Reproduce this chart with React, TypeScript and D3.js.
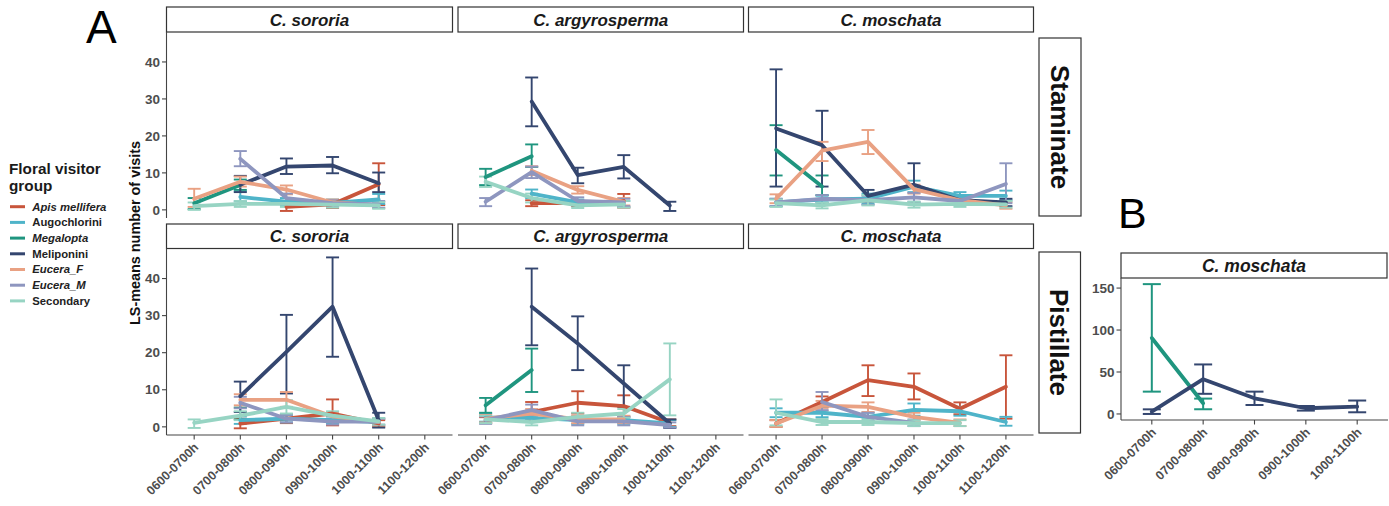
import React from "react";
import * as d3 from "d3";

// ---------- categories & labels ----------
const timeSlots = ["0600-0700h", "0700-0800h", "0800-0900h", "0900-1000h", "1000-1100h", "1100-1200h"];
const timeSlotsB = ["0600-0700h", "0700-0800h", "0800-0900h", "0900-1000h", "1000-1100h"];
const groups = ["Apis mellifera", "Augochlorini", "Megalopta", "Meliponini", "Eucera_F", "Eucera_M", "Secondary"];
const groupItalic = [true, false, true, false, true, true, false];
const groupColors = ["#C8553B", "#4FB4C9", "#1F957F", "#34466F", "#E9A183", "#8E96BF", "#97D4C3"];
const species = ["C. sororia", "C. argyrosperma", "C. moschata"];
const sexes = ["Staminate", "Pistillate"];
const yTicksA = [0, 10, 20, 30, 40];
const yTicksB = [0, 50, 100, 150];

// rows: [group, time-slot index, LS-mean, lower, upper]
type Row = [string, number, number, number, number];

const sororiaStaminate: Row[] = [
  ["Apis mellifera", 2, 0.8, -0.3, 2.3], ["Apis mellifera", 3, 1.5, 0.5, 2.5], ["Apis mellifera", 4, 6.9, 1.3, 12.6],
  ["Augochlorini", 1, 3.5, 2.3, 5.0], ["Augochlorini", 2, 2.2, 1.2, 3.2], ["Augochlorini", 3, 1.9, 1.0, 2.8], ["Augochlorini", 4, 2.8, 1.6, 4.3],
  ["Megalopta", 0, 1.8, 0.2, 3.2], ["Megalopta", 1, 6.7, 5.4, 8.2],
  ["Meliponini", 1, 6.8, 4.8, 9.2], ["Meliponini", 2, 11.7, 9.7, 13.9], ["Meliponini", 3, 12.0, 9.9, 14.3], ["Meliponini", 4, 7.2, 4.8, 10.1],
  ["Eucera_F", 0, 3.0, 0.8, 5.7], ["Eucera_F", 1, 7.6, 6.3, 9.0], ["Eucera_F", 2, 5.5, 4.2, 6.6], ["Eucera_F", 3, 2.0, 1.2, 2.8], ["Eucera_F", 4, 1.3, 0.5, 2.2],
  ["Eucera_M", 1, 13.8, 11.8, 15.9], ["Eucera_M", 2, 3.2, 2.0, 4.4], ["Eucera_M", 3, 1.8, 1.0, 2.6], ["Eucera_M", 4, 1.5, 0.6, 2.4],
  ["Secondary", 0, 1.0, 0.0, 2.0], ["Secondary", 1, 1.6, 0.8, 2.4], ["Secondary", 2, 1.6, 0.8, 2.4], ["Secondary", 3, 1.4, 0.6, 2.2], ["Secondary", 4, 1.2, 0.3, 2.1],
];

const argyrospermaStaminate: Row[] = [
  ["Apis mellifera", 1, 1.8, 1.0, 2.6], ["Apis mellifera", 2, 1.8, 1.0, 2.6], ["Apis mellifera", 3, 2.4, 0.6, 4.3],
  ["Augochlorini", 1, 4.4, 3.2, 5.5], ["Augochlorini", 2, 2.0, 1.2, 2.8], ["Augochlorini", 3, 1.6, 0.8, 2.4],
  ["Megalopta", 0, 8.9, 6.7, 11.1], ["Megalopta", 1, 14.5, 11.6, 17.7],
  ["Meliponini", 1, 29.3, 22.6, 35.8], ["Meliponini", 2, 9.4, 7.2, 11.4], ["Meliponini", 3, 11.6, 8.5, 14.8], ["Meliponini", 4, 1.2, -0.3, 2.2],
  ["Eucera_F", 1, 10.6, 9.4, 11.8], ["Eucera_F", 2, 5.4, 4.4, 6.4], ["Eucera_F", 3, 2.2, 1.2, 3.2],
  ["Eucera_M", 0, 2.2, 1.0, 3.2], ["Eucera_M", 1, 10.2, 8.6, 11.7], ["Eucera_M", 2, 2.4, 1.4, 3.4], ["Eucera_M", 3, 2.0, 1.0, 3.0],
  ["Secondary", 0, 7.6, 6.2, 9.0], ["Secondary", 1, 3.2, 2.0, 4.4], ["Secondary", 2, 1.2, 0.5, 2.0], ["Secondary", 3, 1.5, 0.6, 2.4],
];

const moschataStaminate: Row[] = [
  ["Augochlorini", 0, 2.0, 1.0, 3.0], ["Augochlorini", 1, 2.8, 1.8, 3.8], ["Augochlorini", 2, 3.0, 1.6, 4.4], ["Augochlorini", 3, 6.3, 4.8, 7.9], ["Augochlorini", 4, 3.8, 2.8, 4.8], ["Augochlorini", 5, 3.8, 2.6, 5.2],
  ["Megalopta", 0, 16.2, 9.3, 22.9], ["Megalopta", 1, 6.3, 4.0, 9.3],
  ["Meliponini", 0, 22.0, 6.3, 38.0], ["Meliponini", 1, 17.5, 6.3, 26.8], ["Meliponini", 2, 3.8, 2.2, 5.4], ["Meliponini", 3, 6.8, 1.8, 12.6], ["Meliponini", 4, 2.6, 1.6, 3.6], ["Meliponini", 5, 2.0, 1.0, 3.0],
  ["Eucera_F", 0, 3.0, 1.8, 4.2], ["Eucera_F", 1, 16.0, 13.2, 18.4], ["Eucera_F", 2, 18.4, 15.1, 21.6], ["Eucera_F", 3, 5.6, 4.4, 6.8], ["Eucera_F", 4, 2.6, 1.6, 3.6], ["Eucera_F", 5, 1.2, 0.3, 2.1],
  ["Eucera_M", 0, 2.0, 1.0, 3.0], ["Eucera_M", 1, 3.0, 2.0, 4.0], ["Eucera_M", 2, 2.6, 1.4, 3.8], ["Eucera_M", 3, 3.4, 2.2, 4.6], ["Eucera_M", 4, 2.4, 1.4, 3.4], ["Eucera_M", 5, 7.0, 1.8, 12.6],
  ["Secondary", 0, 1.8, 0.8, 2.8], ["Secondary", 1, 1.2, 0.4, 2.0], ["Secondary", 2, 2.6, 1.2, 4.0], ["Secondary", 3, 1.4, 0.6, 2.2], ["Secondary", 4, 1.6, 0.8, 2.4], ["Secondary", 5, 1.5, 0.6, 2.4],
];

const sororiaPistillate: Row[] = [
  ["Apis mellifera", 1, 0.9, -0.4, 2.2], ["Apis mellifera", 2, 2.2, 1.0, 3.4], ["Apis mellifera", 3, 3.6, 0.4, 7.4], ["Apis mellifera", 4, 0.9, 0.0, 1.8],
  ["Augochlorini", 1, 1.8, 0.8, 2.8], ["Augochlorini", 2, 2.2, 1.2, 3.2], ["Augochlorini", 3, 1.8, 0.8, 2.8], ["Augochlorini", 4, 1.3, 0.4, 2.2],
  ["Megalopta", 1, 3.5, 2.0, 5.2],
  ["Meliponini", 1, 8.3, 4.0, 12.2], ["Meliponini", 2, 20.2, 9.0, 30.2], ["Meliponini", 3, 32.4, 18.9, 45.7], ["Meliponini", 4, 1.8, -0.2, 3.8],
  ["Eucera_F", 1, 7.3, 5.8, 8.8], ["Eucera_F", 2, 7.3, 5.4, 9.4], ["Eucera_F", 3, 2.8, 1.6, 4.0], ["Eucera_F", 4, 1.3, 0.4, 2.2],
  ["Eucera_M", 1, 6.5, 5.0, 8.1], ["Eucera_M", 2, 2.2, 1.2, 3.2], ["Eucera_M", 3, 1.4, 0.6, 2.2], ["Eucera_M", 4, 1.4, 0.6, 2.2],
  ["Secondary", 0, 1.1, -0.3, 2.0], ["Secondary", 1, 3.0, 1.8, 4.2], ["Secondary", 2, 5.4, 3.6, 7.2], ["Secondary", 3, 3.0, 1.8, 4.2], ["Secondary", 4, 1.5, 0.6, 2.4],
];

const argyrospermaPistillate: Row[] = [
  ["Apis mellifera", 0, 1.8, 1.0, 2.6], ["Apis mellifera", 1, 4.0, 1.8, 6.7], ["Apis mellifera", 2, 6.5, 3.6, 9.6], ["Apis mellifera", 3, 5.6, 2.7, 8.5], ["Apis mellifera", 4, 1.1, 0.2, 2.0],
  ["Augochlorini", 0, 2.5, 1.4, 3.6], ["Augochlorini", 1, 2.4, 1.4, 3.4], ["Augochlorini", 2, 1.8, 0.8, 2.8], ["Augochlorini", 3, 1.8, 0.8, 2.8], ["Augochlorini", 4, 0.9, 0.0, 1.8],
  ["Megalopta", 0, 5.8, 3.8, 7.8], ["Megalopta", 1, 15.3, 9.4, 21.1],
  ["Meliponini", 1, 32.4, 22.0, 42.7], ["Meliponini", 2, 22.5, 15.3, 29.8], ["Meliponini", 3, 11.7, 5.4, 16.6], ["Meliponini", 4, 0.9, -0.3, 2.0],
  ["Eucera_F", 0, 2.2, 1.2, 3.2], ["Eucera_F", 1, 3.6, 2.4, 4.8], ["Eucera_F", 2, 2.0, 1.0, 3.0], ["Eucera_F", 3, 2.0, 1.0, 3.0],
  ["Eucera_M", 0, 1.8, 0.8, 2.8], ["Eucera_M", 1, 4.5, 3.0, 6.0], ["Eucera_M", 2, 1.5, 0.4, 2.6], ["Eucera_M", 3, 1.5, 0.4, 2.6], ["Eucera_M", 4, 0.5, -0.2, 1.2],
  ["Secondary", 0, 2.0, 1.0, 3.0], ["Secondary", 1, 1.3, 0.4, 2.2], ["Secondary", 2, 2.7, 1.6, 3.8], ["Secondary", 3, 3.6, 2.4, 4.8], ["Secondary", 4, 12.8, 3.1, 22.5],
];

const moschataPistillate: Row[] = [
  ["Apis mellifera", 0, 0.9, 0.0, 1.8], ["Apis mellifera", 1, 6.7, 5.2, 8.2], ["Apis mellifera", 2, 12.6, 8.3, 16.6], ["Apis mellifera", 3, 10.8, 7.4, 14.4], ["Apis mellifera", 4, 4.9, 3.4, 6.6], ["Apis mellifera", 5, 10.8, 2.2, 19.3],
  ["Augochlorini", 0, 3.8, 2.6, 5.0], ["Augochlorini", 1, 3.8, 2.6, 5.4], ["Augochlorini", 2, 2.7, 1.6, 3.8], ["Augochlorini", 3, 4.6, 3.0, 6.3], ["Augochlorini", 4, 4.2, 3.0, 5.4], ["Augochlorini", 5, 1.3, 0.3, 2.7],
  ["Eucera_F", 0, 0.9, 0.0, 1.8], ["Eucera_F", 1, 5.7, 4.4, 7.0], ["Eucera_F", 2, 5.4, 4.0, 6.6], ["Eucera_F", 3, 2.7, 1.6, 3.8], ["Eucera_F", 4, 1.1, 0.2, 2.0],
  ["Eucera_M", 1, 6.7, 4.5, 9.4], ["Eucera_M", 2, 2.7, 1.6, 3.8], ["Eucera_M", 3, 1.1, 0.2, 2.0],
  ["Secondary", 0, 3.8, 0.4, 7.4], ["Secondary", 1, 1.3, 0.5, 2.1], ["Secondary", 2, 1.3, 0.5, 2.1], ["Secondary", 3, 1.0, 0.2, 1.8], ["Secondary", 4, 1.0, 0.2, 1.8],
];

const moschataPistillateB: Row[] = [
  ["Megalopta", 0, 90.5, 26.6, 154.7], ["Megalopta", 1, 12.7, 5.6, 18.3],
  ["Meliponini", 0, 2.7, 0.0, 5.5], ["Meliponini", 1, 41.4, 24.0, 59.0], ["Meliponini", 2, 18.7, 10.7, 26.6], ["Meliponini", 3, 6.8, 4.0, 9.5], ["Meliponini", 4, 8.8, 2.0, 16.0],
];

const panelRowsA: Row[][][] = [
  [sororiaStaminate, argyrospermaStaminate, moschataStaminate],
  [sororiaPistillate, argyrospermaPistillate, moschataPistillate],
];

// ---------- layout ----------
const FONT = "'Liberation Sans', Arial, Helvetica, sans-serif";
const AXIS_TXT = "#4D4D4D";
const AXIS_LINE = "#444";
const colX: [number, number][] = [[166.5, 452.5], [458, 743.5], [748.5, 1033.5]];
const rowY: [number, number][] = [[32, 218], [248.5, 435]];
const stripY: [number, number][] = [[7, 32], [224, 248.5]];
const yDomainA: [number, number] = [-2.2, 48.1];

const colorOf = (g: string) => groupColors[groups.indexOf(g)];

const lineGen = d3.line<[number, number]>().x((d) => d[0]).y((d) => d[1]);

function Marks({ rows, x, y, cap, lw, ew }: {
  rows: Row[]; x: d3.ScaleLinear<number, number>; y: d3.ScaleLinear<number, number>; cap: number; lw: number; ew: number;
}) {
  return (
    <g>
      {groups.map((g) => {
        const rs = rows.filter((r) => r[0] === g);
        return (
          <g key={"e" + g} stroke={colorOf(g)} strokeWidth={ew} fill="none">
            {rs.map((r, i) => {
              const cx = x(r[1]);
              return (
                <g key={i}>
                  <line x1={cx} x2={cx} y1={y(r[3])} y2={y(r[4])} />
                  <line x1={cx - cap} x2={cx + cap} y1={y(r[3])} y2={y(r[3])} />
                  <line x1={cx - cap} x2={cx + cap} y1={y(r[4])} y2={y(r[4])} />
                </g>
              );
            })}
          </g>
        );
      })}
      {groups.map((g) => {
        const rs = rows.filter((r) => r[0] === g).sort((a, b) => a[1] - b[1]);
        if (rs.length < 2) return null;
        const pts = rs.map((r) => [x(r[1]), y(r[2])] as [number, number]);
        return (
          <path key={"l" + g} d={lineGen(pts) || ""} stroke={colorOf(g)} strokeWidth={lw}
            fill="none" strokeLinejoin="round" strokeLinecap="round" />
        );
      })}
    </g>
  );
}

function XAxis({ x, labels, y0, x0, x1 }: { x: d3.ScaleLinear<number, number>; labels: string[]; y0: number; x0: number; x1: number }) {
  return (
    <g>
      <line x1={x0} x2={x1} y1={y0} y2={y0} stroke={AXIS_LINE} strokeWidth={1.1} />
      {labels.map((l, i) => (
        <g key={l} transform={`translate(${x(i)},${y0})`}>
          <line y1={0} y2={4.5} stroke={AXIS_LINE} strokeWidth={1.1} />
          <text transform="translate(2,10) rotate(-45)" textAnchor="end" dy="0.35em"
            fontFamily={FONT} fontWeight="bold" fontSize={12.5} fill={AXIS_TXT}>{l}</text>
        </g>
      ))}
    </g>
  );
}

function YAxis({ y, ticks, x0, y0, y1 }: { y: d3.ScaleLinear<number, number>; ticks: number[]; x0: number; y0: number; y1: number }) {
  return (
    <g>
      <line x1={x0} x2={x0} y1={y0} y2={y1} stroke={AXIS_LINE} strokeWidth={1.1} />
      {ticks.map((t) => (
        <g key={t} transform={`translate(${x0},${y(t)})`}>
          <line x1={-4.5} x2={0} stroke={AXIS_LINE} strokeWidth={1.1} />
          <text x={-6.5} dy="0.35em" textAnchor="end" fontFamily={FONT} fontWeight="bold" fontSize={13.5} fill={AXIS_TXT}>{t}</text>
        </g>
      ))}
    </g>
  );
}

function Strip({ x0, x1, y0, y1, label, size }: { x0: number; x1: number; y0: number; y1: number; label: string; size: number }) {
  return (
    <g>
      <rect x={x0} y={y0} width={x1 - x0} height={y1 - y0} fill="#fff" stroke="#333" strokeWidth={1.2} />
      <text x={(x0 + x1) / 2} y={(y0 + y1) / 2} dy="0.36em" textAnchor="middle" fontFamily={FONT}
        fontWeight="bold" fontStyle="italic" fontSize={size} fill="#1a1a1a">{label}</text>
    </g>
  );
}

export default function App() {
  const xScalesA = colX.map(([a, b]) => d3.scaleLinear().domain([-0.6, timeSlots.length - 1 + 0.6]).range([a, b]));
  const yScalesA = rowY.map(([t, b]) => d3.scaleLinear().domain(yDomainA).range([b, t]));

  const bX: [number, number] = [1121, 1388];
  const bY: [number, number] = [278, 420];
  const xB = d3.scaleLinear().domain([-0.6, timeSlotsB.length - 1 + 0.6]).range(bX);
  const yB = d3.scaleLinear().domain([-7.2, 162]).range([bY[1], bY[0]]);

  const sexBoxes = [
    { x0: 1039, x1: 1081, y0: 38, y1: 216 },
    { x0: 1039, x1: 1080.5, y0: 252, y1: 433 },
  ];

  return (
    <svg width={1389} height={506} style={{ display: "block", position: "absolute", left: 0, top: 0, background: "#fff" }}>
      <rect width={1389} height={506} fill="#fff" />
      {/* panel tag letters */}
      <text x={86} y={43} fontFamily={FONT} fontSize={46} fill="#000">A</text>
      <text x={1118} y={228} fontFamily={FONT} fontSize={43} fill="#000">B</text>

      {/* legend */}
      <g fontFamily={FONT}>
        <text x={9} y={173.5} fontWeight="bold" fontSize={15.3} fill="#1a1a1a">Floral visitor</text>
        <text x={9} y={190.5} fontWeight="bold" fontSize={15.3} fill="#1a1a1a">group</text>
        {groups.map((g, i) => {
          const cy = 206.7 + i * 15.7;
          return (
            <g key={g}>
              <line x1={10} x2={25} y1={cy} y2={cy} stroke={groupColors[i]} strokeWidth={3} />
              <text x={32.3} y={cy} dy="0.35em" fontWeight="bold" fontStyle={groupItalic[i] ? "italic" : "normal"}
                fontSize={11.3} fill="#222">{g}</text>
            </g>
          );
        })}
      </g>

      {/* y-axis title */}
      <text transform="translate(134.5,233) rotate(-90)" textAnchor="middle" dy="0.35em" fontFamily={FONT}
        fontWeight="bold" fontSize={14.4} fill="#111">LS-means number of visits</text>

      {/* facet panels A */}
      {sexes.map((sex, ri) => (
        <g key={sex}>
          {species.map((sp, ci) => (
            <g key={sp}>
              <Strip x0={colX[ci][0]} x1={colX[ci][1]} y0={stripY[ri][0]} y1={stripY[ri][1]} label={sp} size={17} />
              <Marks rows={panelRowsA[ri][ci]} x={xScalesA[ci]} y={yScalesA[ri]} cap={6.5} lw={3.8} ew={1.9} />
              {ri === 1 && <XAxis x={xScalesA[ci]} labels={timeSlots} y0={rowY[1][1]} x0={colX[ci][0]} x1={colX[ci][1]} />}
            </g>
          ))}
          <YAxis y={yScalesA[ri]} ticks={yTicksA} x0={colX[0][0]} y0={rowY[ri][0]} y1={rowY[ri][1]} />
          <rect x={sexBoxes[ri].x0} y={sexBoxes[ri].y0} width={sexBoxes[ri].x1 - sexBoxes[ri].x0}
            height={sexBoxes[ri].y1 - sexBoxes[ri].y0} fill="#fff" stroke="#333" strokeWidth={1.2} />
          <text transform={`translate(${(sexBoxes[ri].x0 + sexBoxes[ri].x1) / 2},${(sexBoxes[ri].y0 + sexBoxes[ri].y1) / 2}) rotate(90)`}
            textAnchor="middle" dy="0.36em" fontFamily={FONT} fontWeight="bold" fontSize={26} fill="#111">{sex}</text>
        </g>
      ))}

      {/* panel B */}
      <Strip x0={bX[0]} x1={1387} y0={253} y1={bY[0]} label={species[2]} size={17.5} />
      <Marks rows={moschataPistillateB} x={xB} y={yB} cap={9} lw={3.8} ew={2} />
      <YAxis y={yB} ticks={yTicksB} x0={bX[0]} y0={bY[0]} y1={bY[1]} />
      <XAxis x={xB} labels={timeSlotsB} y0={bY[1]} x0={bX[0]} x1={bX[1]} />
    </svg>
  );
}
